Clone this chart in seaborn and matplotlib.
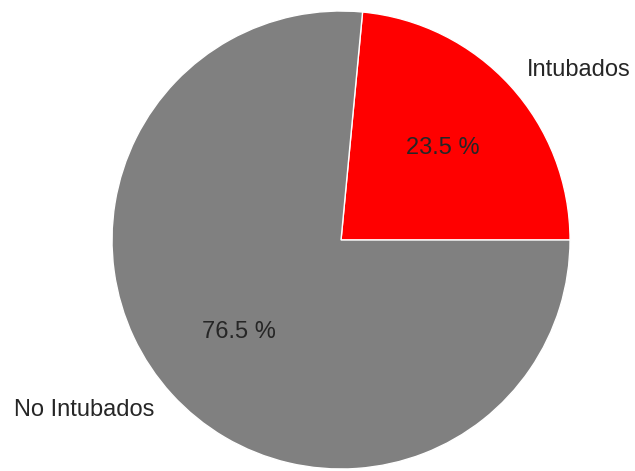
import matplotlib
matplotlib.use("Agg")
import matplotlib.pyplot as plt
import seaborn as sns

# Share of intubated vs. non-intubated patients
labels = ["Intubados", "No Intubados"]
shares = [23.5, 76.5]
colors = ["red", "gray"]

sns.set_theme(style="white")
plt.rcParams["font.family"] = ["Liberation Sans", "DejaVu Sans"]

fig = plt.figure(figsize=(6.35, 4.71), dpi=100)
ax = fig.add_axes([0.1764, 0.00425, 0.7213, 0.9724])

ax.pie(
    shares,
    labels=labels,
    colors=colors,
    autopct="%1.1f %%",
    startangle=0,
    counterclock=True,
    wedgeprops={"edgecolor": "white", "linewidth": 1},
    textprops={"fontsize": 17, "color": "0.15"},
)
ax.set_xlim(-1, 1)
ax.set_ylim(-1, 1)
ax.set_aspect("auto")
for p in ax.patches:
    p.set_clip_on(False)

fig.savefig("out.png", dpi=100)
